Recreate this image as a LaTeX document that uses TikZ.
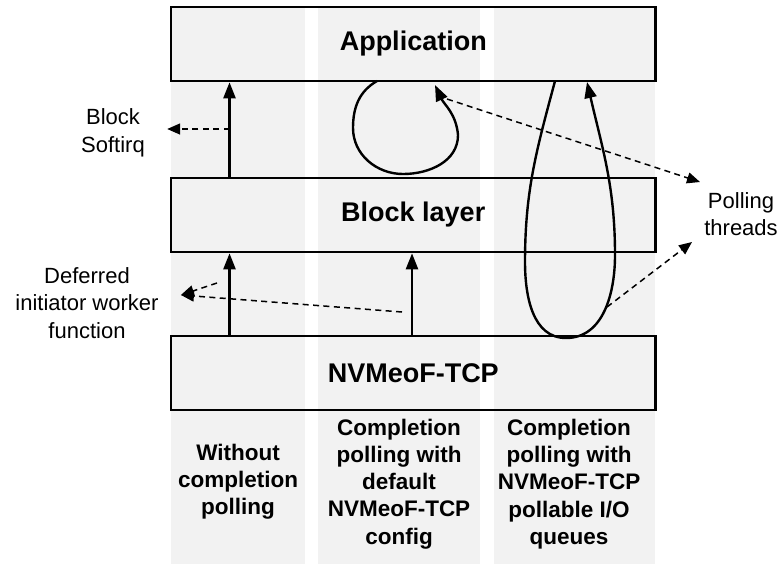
\documentclass[tikz,border=0pt]{standalone}
\usepackage{fontspec}
\setmainfont{Liberation Sans}
\usetikzlibrary{arrows.meta,positioning,calc}
\definecolor{columngray}{RGB}{242,242,242}

\begin{document}
\begin{tikzpicture}[
    x=0.5pt, y=0.5pt,
    every node/.style={align=center},
    column/.style={rectangle, fill=columngray, inner sep=0pt, minimum height=278.5pt},
    layer/.style={rectangle, draw=black, line width=1.3pt, minimum width=242.25pt, minimum height=37pt, font=\fontsize{13.5}{16}\selectfont\bfseries},
    caption/.style={font=\fontsize{11.25}{13.6}\selectfont\bfseries},
    note/.style={inner xsep=11pt, font=\fontsize{11}{13.75}\selectfont},
    flow/.style={line width=1.2pt, -{Triangle[width=6pt,length=8pt]}},
    hint/.style={line width=0.75pt, dash pattern=on 3pt off 2.2pt, -{Triangle[width=5.5pt,length=6.5pt]}}
]
\useasboundingbox (0,0) rectangle (779,-564);

% Gray columns behind the layers
\node[column, minimum width=67pt] (colnone) at (238,-285.5) {};
\node[column, minimum width=81pt] (coldef) at (399,-285.5) {};
\node[column, minimum width=80.5pt] (colpoll) at (574.5,-285.5) {};

% Layers
\node[layer] (app) at (413.25,-44) {Application};
\node[layer] (blk) at (413.25,-215) {Block layer};
\node[layer] (nvme) at (413.25,-373) {NVMeoF-TCP};

% Column captions
\node[caption] (lblnone) at (238,-482) {Without\\completion\\polling};
\node[caption] (lbldef) at (399,-484) {Completion\\polling with\\default\\NVMeoF-TCP\\config};
\node[caption] (lblpoll) at (569,-484) {Completion\\polling with\\NVMeoF-TCP\\pollable I/O\\queues};

% Side notes
\node[note] (softirq) at (113,-133) {Block\\Softirq};
\node[note] (deferred) at (87,-303) {Deferred\\initiator worker\\function};
\node[note] (polling) at (741,-214) {Polling\\threads};

% Interrupt-driven completion path
\coordinate (xnone) at (229.5,0);
\coordinate (xdef) at (412,0);
\draw[flow] (blk.north -| xnone) -- (app.south -| xnone);
\draw[flow] (nvme.north -| xnone) -- (blk.south -| xnone);
\draw[flow] (nvme.north -| xdef) -- (blk.south -| xdef);

\coordinate (irq) at (229.5,-129);
\draw[hint] (irq) -- (irq -| softirq.east);

\coordinate (deftip) at ([yshift=4pt]deferred.east);
\coordinate (worknone) at (217,-283);
\coordinate (workdef) at (402,-312);
\draw[hint] (worknone) -- (deftip);
\draw[hint] (workdef) -- (deftip);

% Polling loops
\coordinate (loopdef) at (435,-85);
\coordinate (looppoll) at (587,-82);
\draw[flow] (377,-81) to[out=210,in=90] (353,-128) to[out=270,in=180] (403,-174)
    to[out=0,in=270] (458,-135) to[out=95,in=295] (loopdef);
\draw[flow] (555,-81) to[out=255,in=90] (525,-262) to[out=270,in=180] (566,-338)
    to[out=0,in=270] (615,-255) to[out=90,in=283] (looppoll);

\coordinate (polltop) at (700,-182);
\coordinate (pollbot) at (692,-242);
\draw[hint] (447,-99) -- (polltop);
\draw[hint] (607,-307) -- (pollbot);
\end{tikzpicture}
\end{document}
